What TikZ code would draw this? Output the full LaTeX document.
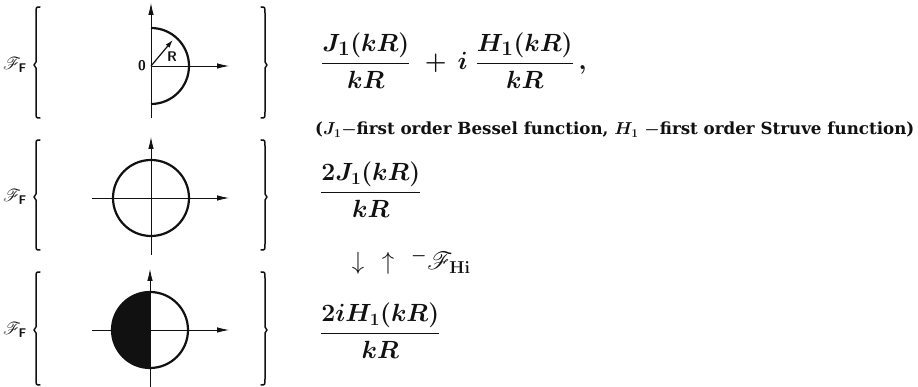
\documentclass[tikz,border=0pt]{standalone}
\usepackage{amsmath,amssymb}
\usepackage{mathrsfs}
\usepackage{fontspec}
\usepackage{tikz}
\usetikzlibrary{arrows.meta}
\newfontfamily\capfont{DejaVu Serif}
\definecolor{ink}{HTML}{111111}
\newcommand{\FF}{\mathscr{F}_{\textsf{\bfseries F}}}

\begin{document}
\begin{tikzpicture}[x=1pt,y=1pt,>={Latex[length=12pt,width=5.5pt]},
  axis/.style={draw=ink,line width=0.8pt},
  rim/.style={draw=ink,line width=2.2pt},
  brace/.style={draw=ink,line width=1.5pt,line cap=round,line join=round},
  big/.style={font=\fontsize{27}{32}\selectfont\boldmath,text=ink,inner sep=0pt},
  note/.style={font=\capfont\fontsize{16.7}{18}\selectfont\bfseries\boldmath,text=ink,inner sep=0pt}]
  \useasboundingbox (0,0) rectangle (918,387);
  % brackets and labels, one row per transform pair
  \foreach \m/\t/\b [count=\i] in {322/380/269, 190/247/137, 57/115/2} {
    \draw[brace] (40,\t) .. controls (36,\t) .. (36,\t-6) -- (36,\m+3) -- (34,\m) -- (36,\m-3) -- (36,\b+6) .. controls (36,\b) .. (40,\b);
    \draw[brace] (261,\t) .. controls (265,\t) .. (265,\t-6) -- (265,\m+3) -- (267,\m) -- (265,\m-3) -- (265,\b+6) .. controls (265,\b) .. (261,\b);
    \node[text=ink,font=\fontsize{18}{18}\selectfont\boldmath] (lab\i) at (15,\m) {$\FF$};
  }

  % half disc rim
  \coordinate (o1) at (151,321);
  \draw[axis,->] (151,269) -- (151,384);
  \draw[axis,->] (o1) -- (229,321);
  \draw[rim] (151,359) arc (90:-90:38pt);
  \draw[axis,line width=1.2pt,->,>={Latex[length=8pt,width=5pt]}] (o1) -- ++(50:34);
  \node[text=ink,font=\sffamily\bfseries\fontsize{14}{14}\selectfont] (zero) at (142,321) {0};
  \node[text=ink,font=\sffamily\bfseries\fontsize{14}{14}\selectfont] (rad) at (172,330) {R};

  % full circle
  \coordinate (o2) at (151,189);
  \draw[axis,->] (92,189) -- (229,189);
  \draw[axis,->] (151,132) -- (151,250);
  \draw[rim] (o2) circle (38pt);

  % left half filled
  \coordinate (o3) at (150,57);
  \fill[ink] (150,95) arc (90:270:38pt) -- cycle;
  \draw[axis,->] (92,57) -- (229,57);
  \draw[axis,->] (150,0) -- (150,118);
  \draw[rim] (o3) circle (38pt);

  % transforms
  \node[big,font=\fontsize{28.5}{32}\selectfont\boldmath,anchor=base west] (fA) at (321,317) {$\dfrac{J_1(kR)}{kR}\;+\,i\;\dfrac{H_1(kR)}{kR}\,,$};
  \node[note,anchor=base west] (cap) at (315,252) {($J_1{-}$first order Bessel function, $H_1$ ${-}$first order Struve function)};
  \node[big,anchor=base west] (fB) at (320,188) {$\dfrac{2J_1(kR)}{kR}$};
  \node[text=ink,font=\fontsize{30}{30}\selectfont] (dn) at (358,124) {$\downarrow$};
  \node[text=ink,font=\fontsize{30}{30}\selectfont] (up) at (388,124) {$\uparrow$};
  \node[text=ink,font=\fontsize{24}{24}\selectfont\boldmath,anchor=base west,inner sep=0pt] (hi) at (411,117) {${}^{-}\mathscr{F}_{\mathbf{Hi}}$};
  \node[big,anchor=base west] (fC) at (320,47) {$\dfrac{2iH_1(kR)}{kR}$};
\end{tikzpicture}
\end{document}
